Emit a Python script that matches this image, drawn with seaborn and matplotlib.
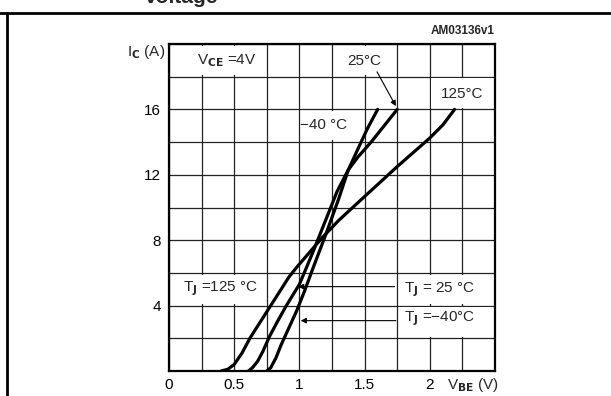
import numpy as np
import pandas as pd
import seaborn as sns
import matplotlib.pyplot as plt
from matplotlib.lines import Line2D
from matplotlib.patches import Rectangle

# VBE (V) vs IC (A) for the three junction temperatures
vbe_m40 = [0.75, 0.78, 0.82, 0.86, 0.90, 0.94, 0.98, 1.04, 1.10, 1.20, 1.30, 1.375, 1.45, 1.52, 1.60]
ic_m40 = [0, 0.2, 0.8, 1.6, 2.3, 3.0, 3.7, 4.9, 6.2, 8.3, 10.5, 12.3, 13.6, 14.8, 16.0]

vbe_25 = [0.61, 0.64, 0.68, 0.72, 0.77, 0.83, 0.90, 1.00, 1.10, 1.20, 1.29, 1.375, 1.45, 1.55, 1.65, 1.75]
ic_25 = [0, 0.2, 0.6, 1.2, 2.1, 3.0, 4.0, 5.3, 7.2, 9.2, 11.0, 12.3, 13.1, 14.0, 15.0, 16.0]

vbe_125 = [0.40, 0.45, 0.50, 0.56, 0.62, 0.70, 0.78, 0.86, 0.92, 0.98, 1.05, 1.18, 1.30, 1.49, 1.75, 1.90, 2.00, 2.10, 2.19]
ic_125 = [0, 0.1, 0.4, 1.1, 2.0, 3.0, 4.0, 5.0, 5.75, 6.35, 7.0, 8.2, 9.2, 10.6, 12.5, 13.55, 14.25, 15.05, 16.0]

x_ticks = [0, 0.5, 1, 1.5, 2]
x_labels = ['0', '0.5', '1', '1.5', '2']
y_ticks = [4, 8, 12, 16]

sns.set_style('white')
plt.rcParams['font.family'] = ['Liberation Sans', 'DejaVu Sans']
plt.rcParams['mathtext.default'] = 'regular'

fig = plt.figure(figsize=(6.11, 3.96), dpi=100)
ax = fig.add_axes([169 / 611, 25 / 396, 326 / 611, 327 / 396])

curves = [(vbe_m40, ic_m40), (vbe_25, ic_25), (vbe_125, ic_125)]
for vx, iy in curves:
    df = pd.DataFrame({'vbe': vx, 'ic': iy})
    sns.lineplot(data=df, x='vbe', y='ic', sort=False, color='black', lw=2.3, ax=ax, zorder=5)

ax.set_xlim(0, 2.5)
ax.set_ylim(0, 20)
ax.set_xticks(x_ticks)
ax.set_xticklabels(x_labels)
ax.set_yticks(y_ticks)
ax.set_xticks(np.arange(0, 2.51, 0.25), minor=True)
ax.set_yticks(np.arange(0, 20.1, 2), minor=True)
ax.tick_params(which='both', length=0, labelsize=11, colors='black')
ax.tick_params(axis='x', pad=5)
ax.tick_params(axis='y', pad=6)
ax.grid(which='both', color='#222222', lw=0.9)
ax.set_axisbelow(True)
ax.set_xlabel('')
ax.set_ylabel('')
for s in ax.spines.values():
    s.set_color('black')
    s.set_linewidth(1.6)

# white label cells that break the grid
boxes = [(0, 18, 0.75, 2), (1.25, 18, 0.5, 2), (1.0, 14, 0.5, 2), (2.0, 16, 0.5, 2),
         (0, 4, 0.75, 2), (1.75, 4, 0.75, 2), (1.75, 2, 0.75, 2)]
for bx, by, bw, bh in boxes:
    ax.add_patch(Rectangle((bx + 0.012, by + 0.1), bw - 0.024, bh - 0.2,
                           facecolor='white', edgecolor='none', zorder=2))

fs = 11
ax.text(0.44, 18.95, 'V$_{\\mathbf{CE}}$ =4V', ha='center', va='center', fontsize=fs, zorder=6)
ax.text(1.5, 18.95, '25°C', ha='center', va='center', fontsize=fs, zorder=6)
ax.text(2.25, 16.95, '125°C', ha='center', va='center', fontsize=fs, zorder=6)
ax.text(1.005, 15.05, '\u221240 °C', ha='left', va='center', fontsize=fs, zorder=6)
ax.text(0.11, 5.05, 'T$_{\\mathbf{J}}$ =125 °C', ha='left', va='center', fontsize=fs, zorder=6)
ax.text(1.80, 4.95, 'T$_{\\mathbf{J}}$ = 25 °C', ha='left', va='center', fontsize=fs, zorder=6)
ax.text(1.80, 3.2, 'T$_{\\mathbf{J}}$ =\u221240°C', ha='left', va='center', fontsize=fs, zorder=6)

arrow = dict(arrowstyle='-|>', color='black', lw=0.8, mutation_scale=8, shrinkA=0, shrinkB=0)
ax.annotate('', xy=(1.74, 16.2), xytext=(1.595, 18.3), arrowprops=arrow, zorder=6)
ax.annotate('', xy=(0.99, 5.16), xytext=(1.73, 5.16), arrowprops=arrow, zorder=6)
ax.annotate('', xy=(1.01, 3.08), xytext=(1.74, 3.08), arrowprops=arrow, zorder=6)

ax.text(-0.03, 19.5, 'I$_{\\mathbf{C}}$ (A)', ha='right', va='center', fontsize=fs, clip_on=False)
ax.text(2.13, -0.85, 'V$_{\\mathbf{BE}}$ (V)', ha='left', va='center', fontsize=fs, clip_on=False)
ax.text(2.5, 20.4, 'AM03136v1', ha='right', va='bottom', fontsize=8.5, fontweight='bold')

# surrounding frame of the datasheet figure
fig.add_artist(Line2D([0, 1], [1 - 13 / 396] * 2, transform=fig.transFigure, color='black', lw=2))
fig.add_artist(Line2D([7 / 611] * 2, [0, 1 - 13 / 396], transform=fig.transFigure, color='black', lw=2))
fig.text(145 / 611, 0.993, 'voltage', ha='left', va='baseline', fontsize=15, fontweight='bold')

fig.savefig('out.png', dpi=100)
